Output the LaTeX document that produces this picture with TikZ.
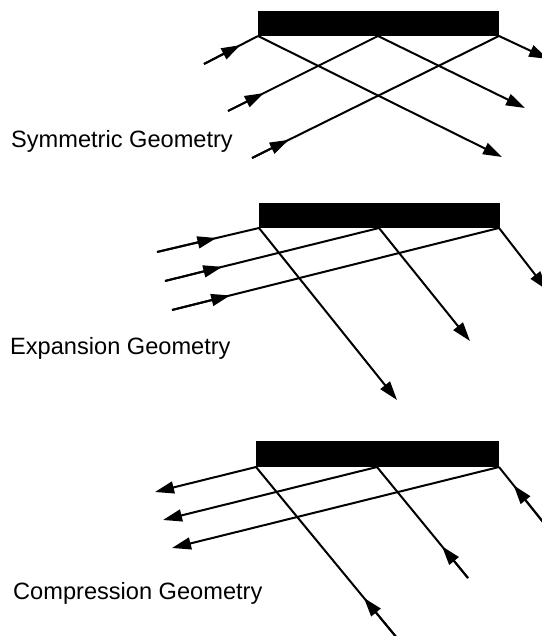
\documentclass[tikz,border=0pt]{standalone}
\usepackage{fontspec}
\setmainfont{Liberation Sans}
\usetikzlibrary{arrows.meta,calc}
\tikzset{
  ray/.style={line width=2pt, line cap=butt},
  arrowed/.style={ray, -{Triangle[length=19pt,width=12pt]}},
  mirror/.style={fill=black, draw=none},
  lab/.style={font=\fontsize{23.6}{28}\selectfont, inner sep=0pt, anchor=base west}
}
\newcommand{\midarrow}[3]{% start, end, distance
  \draw[ray] (#1) -- (#2);
  \draw[arrowed] (#1) -- ($(#1)!#3!(#2)$);
}
\begin{document}
\begin{tikzpicture}[x=1pt,y=-1pt]
\useasboundingbox (0,0) rectangle (541,636);
% ---------- Symmetric ----------
\fill[mirror] (258,11) rectangle (499,36);
\coordinate (a1) at (258,36);
\coordinate (a2) at (378,36);
\coordinate (a3) at (499,36);
\coordinate (ai1) at (204,64);
\coordinate (ai2) at (228,111);
\coordinate (ai3) at (252,158);
\coordinate (ao1) at (502,157);
\coordinate (ao2) at (525,108);
\coordinate (ao3) at (548,59);
\midarrow{ai1}{a1}{41pt}
\midarrow{ai2}{a2}{40pt}
\midarrow{ai3}{a3}{41pt}
\draw[arrowed] (a1) -- (ao1);
\draw[arrowed] (a2) -- (ao2);
\draw[arrowed] (a3) -- (ao3);
\node[lab] (t1) at (11,148) {Symmetric Geometry};
% ---------- Expansion ----------
\fill[mirror] (259,203) rectangle (500,228);
\coordinate (b1) at (259,228);
\coordinate (b2) at (379,228);
\coordinate (b3) at (499,228);
\coordinate (bi1) at (157,252);
\coordinate (bi2) at (165,281);
\coordinate (bi3) at (172,310);
\coordinate (bo1) at (397,400);
\coordinate (bo2) at (470,341);
\coordinate (bo3) at (547,290);
\midarrow{bi1}{b1}{61pt}
\midarrow{bi2}{b2}{59pt}
\midarrow{bi3}{b3}{60pt}
\draw[arrowed] (b1) -- (bo1);
\draw[arrowed] (b2) -- (bo2);
\draw[arrowed] (b3) -- (bo3);
\node[lab] (t2) at (10,354) {Expansion Geometry};
% ---------- Compression ----------
\fill[mirror] (256,441) rectangle (499,467);
\coordinate (c1) at (256,467);
\coordinate (c2) at (377,467);
\coordinate (c3) at (499,467);
\coordinate (co1) at (155,492);
\coordinate (co2) at (163,520);
\coordinate (co3) at (172,548);
\coordinate (ci1) at (397,638);
\coordinate (ci2) at (468,578);
\coordinate (ci3) at (543,522);
\draw[arrowed] (c1) -- (co1);
\draw[arrowed] (c2) -- (co2);
\draw[arrowed] (c3) -- (co3);
\midarrow{ci1}{c1}{52pt}
\midarrow{ci2}{c2}{41pt}
\midarrow{ci3}{c3}{47pt}
\node[lab] (t3) at (13,599) {Compression Geometry};
\end{tikzpicture}
\end{document}
